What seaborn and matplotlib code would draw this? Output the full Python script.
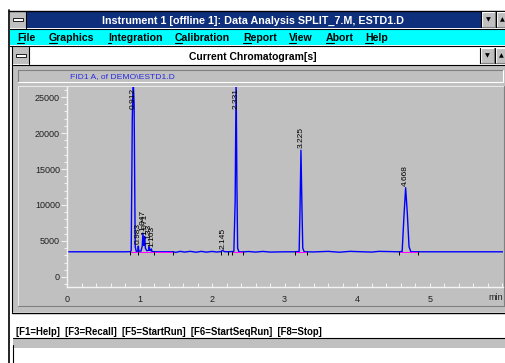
import numpy as np
import pandas as pd
import matplotlib
matplotlib.use("Agg")
import matplotlib.pyplot as plt
import seaborn as sns
from matplotlib import font_manager
from matplotlib.patches import Rectangle
from matplotlib.lines import Line2D
from matplotlib.ticker import MultipleLocator

# ==========================================
# DATA
# ==========================================
RET_TIME = [0.00, 0.20, 0.40, 0.60, 0.80, 0.87, 0.885, 0.900, 0.912, 0.925, 0.940, 0.955,
            0.975, 0.983, 0.990, 1.020, 1.037, 1.047, 1.058, 1.064, 1.071, 1.080, 1.100,
            1.125, 1.133, 1.142, 1.155, 1.163, 1.172, 1.200, 1.460, 1.500, 1.560, 1.620,
            1.700, 1.780, 1.850, 1.920, 2.000, 2.060, 2.120, 2.145, 2.170, 2.220, 2.300,
            2.318, 2.331, 2.342, 2.352, 2.370, 2.430, 2.500, 2.600, 2.700, 2.800, 3.000,
            3.140, 3.200, 3.212, 3.225, 3.238, 3.250, 3.270, 3.400, 3.600, 3.750, 3.900,
            4.200, 4.300, 4.580, 4.620, 4.645, 4.668, 4.690, 4.715, 4.740, 4.840, 5.200,
            5.600, 6.010]
SIGNAL = [3500, 3500, 3500, 3500, 3500, 3520, 3650, 22000, 27500, 24000, 4200, 3550,
          3600, 4300, 3600, 3600, 4300, 6100, 4400, 4800, 5600, 4000, 3650,
          3700, 4200, 3700, 3650, 3900, 3550, 3500, 3500, 3420, 3560, 3460, 3560,
          3440, 3560, 3450, 3550, 3470, 3520, 3700, 3520, 3500, 3550,
          10500, 27500, 13000, 4000, 3500, 3480, 3540, 3460, 3550, 3460, 3500,
          3500, 3550, 9500, 17600, 10000, 4000, 3500, 3480, 3560, 3440, 3560,
          3460, 3560, 3500, 3550, 8500, 12400, 9000, 4200, 3500, 3500, 3500,
          3500, 3500]

PEAK_RT = [0.912, 0.983, 1.047, 1.071, 1.133, 1.163, 2.145, 2.331, 3.225, 4.668]
PEAK_LABELS = ["0.912", "0.983", "1.047", "1.071", "1.133", "1.163", "2.145", "2.331",
               "3.225", "4.668"]
PEAK_APEX = [27500, 4300, 6100, 5600, 4200, 3900, 3700, 27500, 17600, 12400]

BASELINE_LEVEL = 3500
BASELINE_MARKS = [0.87, 0.98, 1.20, 1.46, 2.12, 2.22, 2.28, 2.43, 3.14, 3.31, 4.58, 4.84]
BASELINE_SEGMENTS = [(0.87, 0.96), (0.98, 1.46), (2.28, 2.43), (3.14, 3.31), (4.58, 4.84)]

Y_TICKS = [0, 5000, 10000, 15000, 20000, 25000]
X_TICKS = [0, 1, 2, 3, 4, 5]

WINDOW_TITLE = "Instrument 1 [offline 1]: Data Analysis SPLIT_7.M, ESTD1.D"
MENU_ITEMS = ["File", "Graphics", "Integration", "Calibration", "Report", "View", "Abort", "Help"]
MENU_X = [17, 49, 108, 175, 243, 289, 326, 365]
CHILD_TITLE = "Current Chromatogram[s]"
SIGNAL_NAME = "FID1 A, of DEMO\\ESTD1.D"
STATUS_LINE = "[F1=Help]  [F3=Recall]  [F5=StartRun]  [F6=StartSeqRun]  [F8=Stop]"

# ==========================================
# STYLE / HELPERS
# ==========================================
W, H = 506, 363
GRAY = "#c0c0c0"
DARK = "#808080"
NAVY = "#0d2f7c"
CYAN = "#00ffff"

sns.set_theme(style="white")
names = {f.name for f in font_manager.fontManager.ttflist}
UI_FONT = "Liberation Sans Narrow" if "Liberation Sans Narrow" in names else "Liberation Sans"
plt.rcParams["font.family"] = ["Liberation Sans", "DejaVu Sans"]

fig = plt.figure(figsize=(W / 100, H / 100), dpi=100, facecolor="white")
renderer = fig.canvas.get_renderer()


def box(x0, y0, x1, y1, color, z=-2):
    fig.add_artist(Rectangle((x0 / W, 1 - y1 / H), (x1 - x0) / W, (y1 - y0) / H,
                             transform=fig.transFigure, facecolor=color,
                             edgecolor="none", zorder=z))


def hline(x0, x1, y, color="black", lw=0.8, z=-1):
    fig.add_artist(Line2D([x0 / W, x1 / W], [1 - y / H, 1 - y / H],
                          transform=fig.transFigure, color=color, linewidth=lw, zorder=z))


def vline(x, y0, y1, color="black", lw=0.8, z=-1):
    fig.add_artist(Line2D([x / W, x / W], [1 - y0 / H, 1 - y1 / H],
                          transform=fig.transFigure, color=color, linewidth=lw, zorder=z))


def bevel(x0, y0, x1, y1, light="white", dark=DARK, face=GRAY):
    box(x0, y0, x1, y1, face)
    hline(x0, x1, y0, light)
    vline(x0, y0, y1, light)
    hline(x0, x1, y1, dark)
    vline(x1, y0, y1, dark)


def text(x, y, s, size, **kw):
    return fig.text(x / W, 1 - y / H, s, fontsize=size, **kw)


def fit_width(t, target_px):
    bb = t.get_window_extent(renderer=renderer)
    t.set_fontsize(t.get_fontsize() * target_px / bb.width)


def button(x0, y0, x1, y1, glyph):
    bevel(x0, y0, x1, y1, light="white", dark=DARK)
    vline(x0 - 0.5, y0, y1, "black")
    text((x0 + x1) / 2, (y0 + y1) / 2 + 0.5, glyph, 4.5, ha="center", va="center",
         color="black", family=["DejaVu Sans"])


def sysbox(x0, y0, x1, y1):
    box(x0, y0, x1, y1, GRAY)
    vline(x1, y0, y1, "black")
    cy = (y0 + y1) / 2
    fig.add_artist(Rectangle(((x0 + 3) / W, 1 - (cy + 1.5) / H), (x1 - x0 - 6) / W, 3 / H,
                             transform=fig.transFigure, facecolor="white",
                             edgecolor="black", linewidth=0.6, zorder=-1))


# ==========================================
# WINDOW CHROME
# ==========================================
hline(9, W, 10.5, "black", lw=1.0)
vline(9, 10, H, "black", lw=1.2)

# title bar
box(10, 11, W, 28, NAVY)
sysbox(10, 11, 26, 28)
button(482, 12, 495, 27, "\u25bc")
button(497, 12, 507, 27, "\u25b2")
t = text(253, 20.5, WINDOW_TITLE, 9, color="white", weight="bold", family=UI_FONT,
         ha="center", va="center")
fit_width(t, 303)
hline(10, W, 28.5, "black")

# menu bar
box(10, 29, W, 45, CYAN)
hline(10, W, 45.5, "black")
probe = text(0, 0, "Integration", 9, weight="bold", family=UI_FONT)
fit_width(probe, 54)
menu_size = probe.get_fontsize()
probe.remove()
for item, mx in zip(MENU_ITEMS, MENU_X):
    text(mx, 41, item, menu_size, weight="bold", family=UI_FONT, va="baseline",
         color="black")
    first = text(mx, 41, item[0], menu_size, weight="bold", family=UI_FONT, va="baseline")
    bb = first.get_window_extent(renderer=renderer)
    first.remove()
    fig.add_artist(Line2D([bb.x0 / W, bb.x1 / W], [1 - 42.8 / H] * 2,
                          transform=fig.transFigure, color="black", linewidth=0.8))

# child window title
vline(12.5, 46, 312, "black")
box(13, 47, W, 64, "white")
sysbox(13, 47, 29, 64)
button(481, 48, 494, 63, "\u25bc")
button(496, 48, 507, 63, "\u25b2")
t = text(253, 57, CHILD_TITLE, 9, weight="bold", family=UI_FONT, ha="center",
         va="center", color="black")
fit_width(t, 127)
hline(13, W, 64.5, "black")

# gray client area
box(13, 65, W, 312, GRAY)
bevel(18, 70, 503, 82, light=DARK, dark="white")
t = text(70, 76.5, SIGNAL_NAME, 6, color="#2a2ae0", family=UI_FONT, ha="left",
         va="center")
fit_width(t, 104)
bevel(18, 86, 504, 306, light="#e8e8e8", dark=DARK)
hline(12, W, 312.5, "black", lw=1.0)

# status line
t = text(16, 332, STATUS_LINE, 7, weight="bold", family=UI_FONT, ha="left",
         va="center", color="black")
fit_width(t, 306)
box(13, 338, W, 348, GRAY)
hline(13, W, 337.5, "black")
vline(13, 345, H, "black")

# ==========================================
# CHROMATOGRAM
# ==========================================
Y_MIN, Y_MAX = -1389, 26389
ax = fig.add_axes([67 / W, 1 - 287 / H, 436 / W, 200 / H])
ax.set_zorder(5)
ax.set_facecolor(GRAY)

trace = pd.DataFrame({"time": RET_TIME, "signal": SIGNAL})
sns.lineplot(data=trace, x="time", y="signal", ax=ax, color="#0000ff", linewidth=1.0,
             estimator=None, sort=False)

for start, end in BASELINE_SEGMENTS:
    ax.plot([start, end], [BASELINE_LEVEL, BASELINE_LEVEL], color="#ff00ff", linewidth=0.7)
ax.vlines(BASELINE_MARKS, BASELINE_LEVEL - 450, BASELINE_LEVEL + 150, color="black",
          linewidth=0.7)

for rt, lab, apex in zip(PEAK_RT, PEAK_LABELS, PEAK_APEX):
    if apex > Y_MAX:
        ax.text(rt, Y_MAX - 150, lab, rotation=90, ha="center", va="top", fontsize=6,
                color="black")
    else:
        ax.text(rt, apex + 250, lab, rotation=90, ha="center", va="bottom", fontsize=6,
                color="black")

ax.set_xlim(0, 6.01)
ax.set_ylim(Y_MIN, Y_MAX)
ax.set_xticks(X_TICKS)
ax.set_yticks(Y_TICKS)
ax.xaxis.set_minor_locator(MultipleLocator(0.2))
ax.yaxis.set_minor_locator(MultipleLocator(1000))
ax.set_xlabel("")
ax.set_ylabel("")
for side in ["top", "right"]:
    ax.spines[side].set_visible(False)
for side in ["left", "bottom"]:
    ax.spines[side].set_color("#f4f4f4")
    ax.spines[side].set_linewidth(1.0)
ax.tick_params(axis="y", which="major", length=4, width=0.8, color="#f0f0f0",
               labelsize=6.5, labelcolor="#202020", pad=1, left=True)
ax.tick_params(axis="y", which="minor", length=2.5, width=0.8, color="#f0f0f0", left=True)
ax.tick_params(axis="x", which="both", direction="in", length=3, width=0.8,
               color="#f0f0f0", labelsize=6.5, labelcolor="#202020", pad=6, bottom=True)
text(496, 298, "min", 6.5, ha="center", va="center", color="#202020")

fig.savefig("out.png", dpi=100)
